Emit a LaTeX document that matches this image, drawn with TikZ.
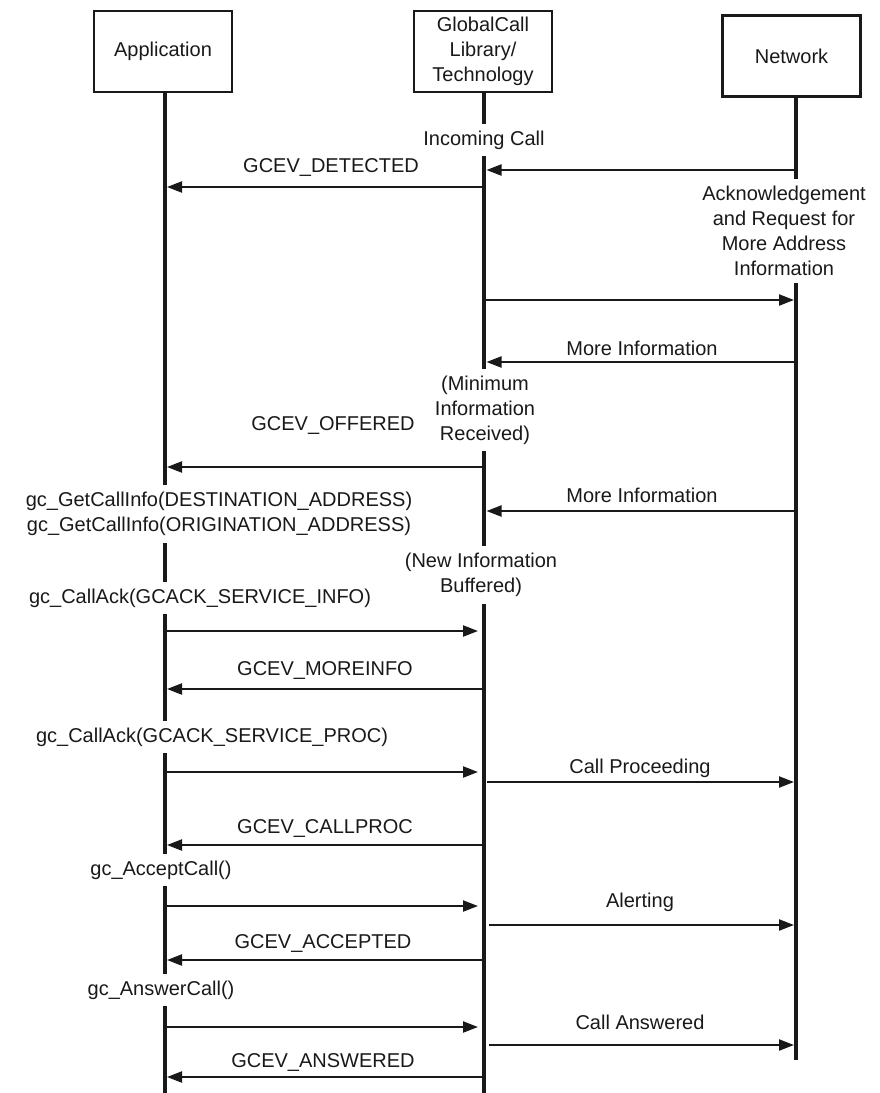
\documentclass[tikz,border=0pt]{standalone}
\usepackage{fontspec}
\setmainfont{Liberation Sans}
\usetikzlibrary{arrows.meta}
\begin{document}
\begin{tikzpicture}[x=1pt,y=-1pt,
  every node/.style={font=\fontsize{20}{25}\selectfont, inner sep=0pt, align=center, text=black!90},
  actor/.style={draw=black!90, line width=2.5pt, minimum width=138pt, minimum height=81pt, inner sep=0pt},
  life/.style={line width=4.5pt, draw=black!90},
  msg/.style={line width=2.2pt, draw=black!90, -{Triangle[length=15pt,width=11pt]}},
  cut/.style={fill=white, inner xsep=2pt, inner ysep=7pt}]
\useasboundingbox (0,0) rectangle (879,1093);
% actors
\node[actor] (app) at (163,51.5) {Application};
\node[actor] (gcl) at (483,51.5) {GlobalCall\\Library/\\Technology};
\node[actor] (net) at (791.5,56) {Network};
% lifelines
\coordinate (appT) at (165,93);
\coordinate (appB) at (165,1093);
\coordinate (gcT) at (484,93);
\coordinate (gcB) at (484,1093);
\coordinate (netT) at (796,98);
\coordinate (netB) at (796,1060);
\draw[life] (appT) -- (appB);
\draw[life] (gcT) -- (gcB);
\draw[life] (netT) -- (netB);
% labels that cut lifelines
\node[cut] (inc) at (484,140) {Incoming Call};
\node[cut] (ack) at (784,231) {Acknowledgement\\and Request for\\More Address\\Information};
\node[cut] (minfo) at (485,410) {(Minimum\\Information\\Received)};
\node[cut] (gci) at (219,514) {gc\_GetCallInfo(DESTINATION\_ADDRESS)\\gc\_GetCallInfo(ORIGINATION\_ADDRESS)};
\node[cut] (newi) at (481,575) {(New Information\\Buffered)};
\node[cut] (ackinfo) at (200,598) {gc\_CallAck(GCACK\_SERVICE\_INFO)};
\node[cut] (ackproc) at (212,737) {gc\_CallAck(GCACK\_SERVICE\_PROC)};
\node[cut] (acc) at (161,870) {gc\_AcceptCall()};
\node[cut] (ans) at (161,990) {gc\_AnswerCall()};
% message end points
\coordinate (m1a) at (796,170);  \coordinate (m1b) at (486.5,170);
\coordinate (m2a) at (484,187);  \coordinate (m2b) at (167,187);
\coordinate (m3a) at (484,300);  \coordinate (m3b) at (794,300);
\coordinate (m4a) at (796,362);  \coordinate (m4b) at (486.5,362);
\coordinate (m5a) at (484,467);  \coordinate (m5b) at (167,467);
\coordinate (m6a) at (796,511);  \coordinate (m6b) at (486.5,511);
\coordinate (m7a) at (165,631);  \coordinate (m7b) at (478,631);
\coordinate (m8a) at (484,689);  \coordinate (m8b) at (167,689);
\coordinate (m9a) at (165,772);  \coordinate (m9b) at (478,772);
\coordinate (m10a) at (487,782); \coordinate (m10b) at (794,782);
\coordinate (m11a) at (484,845); \coordinate (m11b) at (167,845);
\coordinate (m12a) at (165,906); \coordinate (m12b) at (478,906);
\coordinate (m13a) at (489,925); \coordinate (m13b) at (794,925);
\coordinate (m14a) at (484,960); \coordinate (m14b) at (167,960);
\coordinate (m15a) at (165,1027); \coordinate (m15b) at (478,1027);
\coordinate (m16a) at (489,1045); \coordinate (m16b) at (794,1045);
\coordinate (m17a) at (484,1077); \coordinate (m17b) at (167,1077);
\foreach \i in {1,...,17} {\draw[msg] (m\i a) -- (m\i b);}
% message labels
\node (det) at (331,168) {GCEV\_DETECTED};
\node (mi1) at (642,348) {More Information};
\node (off) at (333,425) {GCEV\_OFFERED};
\node (mi2) at (642,495) {More Information};
\node (more) at (325,670) {GCEV\_MOREINFO};
\node (cpr) at (640,768) {Call Proceeding};
\node (cpe) at (325,828) {GCEV\_CALLPROC};
\node (alr) at (640,902) {Alerting};
\node (acd) at (323,943) {GCEV\_ACCEPTED};
\node (can) at (640,1022) {Call Answered};
\node (and) at (323,1062) {GCEV\_ANSWERED};
\end{tikzpicture}
\end{document}
